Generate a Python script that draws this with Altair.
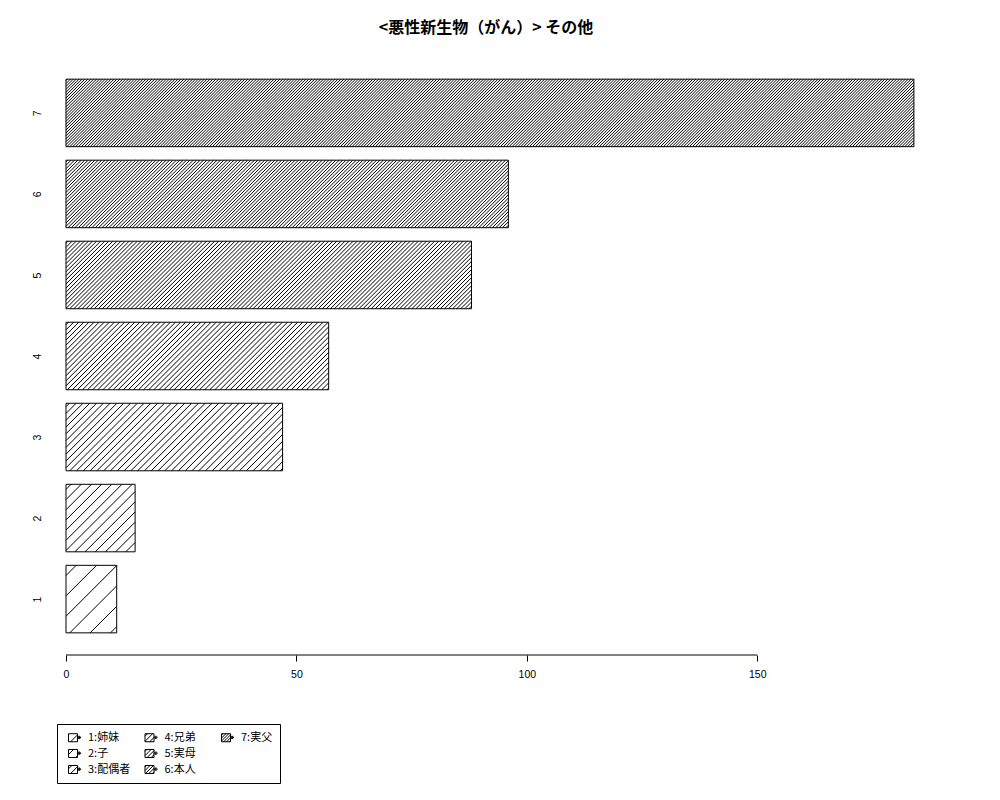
import altair as alt
import pandas as pd
import numpy as np

# ---------------- data ----------------
categories = ["1", "2", "3", "4", "5", "6", "7"]
names = ["姉妹", "子", "配偶者", "兄弟", "実母", "本人", "実父"]
values = [11, 15, 47, 57, 88, 96, 184]
x_ticks = [0, 50, 100, 150]
title_text = "<悪性新生物（がん）> その他"

# ---------------- layout / style ----------------
VIEW_W, VIEW_H = 882, 598
X_MAX = 191.4
BAR_W, BAR_SPACE = 1.0, 0.2          # R barplot geometry (width, space)
DENSITY = [5, 10, 15, 20, 25, 30, 35]  # hatch lines per inch (R style)
LAT = "Liberation Sans"
CJK = "Noto Sans CJK JP"

n = len(categories)
y_lo = [BAR_SPACE + i * (BAR_W + BAR_SPACE) for i in range(n)]
y_hi = [lo + BAR_W for lo in y_lo]
y_mid = [lo + BAR_W / 2 for lo in y_lo]
ext = 0.04 * (y_hi[-1] - y_lo[0])
Y_MIN, Y_MAX = y_lo[0] - ext, y_hi[-1] + ext

pxu = VIEW_W / X_MAX            # pixels per x unit
pyu = VIEW_H / (Y_MAX - Y_MIN)  # pixels per y unit


def spacing_px(d):
    return 72.0 * np.sqrt(2) / d


# hatch segments (45 degrees in screen space), clipped to each bar
hx, hx2, hy, hy2 = [], [], [], []
for v, lo, d in zip(values, y_lo, DENSITY):
    W, H = v * pxu, BAR_W * pyu
    s = spacing_px(d)
    for c in np.arange(-H + s / 2, W, s):
        ua, ub = max(0.0, c), min(W, c + H)
        if ub - ua < 0.3:
            continue
        hx.append(ua / pxu)
        hx2.append(ub / pxu)
        hy.append(lo + (ua - c) / pyu)
        hy2.append(lo + (ub - c) / pyu)
hatch_df = pd.DataFrame({"x": hx, "x2": hx2, "y": hy, "y2": hy2})


def symbol_path(spacing_units):
    x0, x1, y0, y1 = -1.0, 0.5, -0.67, 0.67
    segs = [f"M{x0},{y0}L{x1},{y0}", f"M{x1},{y0}L{x1},{y1}",
            f"M{x1},{y1}L{x0},{y1}", f"M{x0},{y1}L{x0},{y0}"]
    c = x0 + y0 + spacing_units / 2
    while c < x1 + y1:
        xa = max(x0, c - y1)
        xb = min(x1, c - y0)
        if xb > xa:
            segs.append(f"M{xa:.3f},{c - xa:.3f}L{xb:.3f},{c - xb:.3f}")
        c += spacing_units
    for bx, bh in [(0.55, 0.12), (0.7, 0.27), (0.85, 0.27), (1.0, 0.12)]:
        segs.append(f"M{bx},{-0.05 - bh:.2f}L{bx},{-0.05 + bh:.2f}")
    return "".join(segs)


df = pd.DataFrame({"cat": categories, "value": values, "base": [0] * n,
                   "lo": y_lo, "hi": y_hi,
                   "label": [f"{c}:{nm}" for c, nm in zip(categories, names)]})

xscale = alt.Scale(domain=[0, X_MAX], nice=False, zero=True)
yscale = alt.Scale(domain=[Y_MIN, Y_MAX], nice=False, zero=False)
xaxis = alt.Axis(values=x_ticks, format="d", title=None, grid=False, domain=False,
                 tickSize=6, tickColor="black", labelFont=LAT, labelFontSize=10.5,
                 labelColor="black", labelPadding=8, labelFlush=False)
cat_js = "[" + ",".join(f"'{c}'" for c in categories) + "]"
yaxis = alt.Axis(title=None, grid=False, domain=False, ticks=False, tickSize=0,
                 values=y_mid,
                 labelExpr=f"{cat_js}[round((datum.value - {y_mid[0]}) / {BAR_W + BAR_SPACE})]",
                 labelAngle=-90, labelAlign="center", labelBaseline="alphabetic",
                 labelFont=LAT, labelFontSize=10.5, labelColor="black",
                 labelPadding=26, minExtent=50, maxExtent=50, labelFlush=False)

enc = dict(x=alt.X("base:Q", scale=xscale, axis=xaxis), x2="value:Q",
           y=alt.Y("lo:Q", scale=yscale, axis=yaxis), y2="hi:Q")

bars_fill = alt.Chart(df).mark_rect(fill="white", strokeWidth=0).encode(**enc)
hatch = alt.Chart(hatch_df).mark_rule(color="black", strokeWidth=1).encode(
    x=alt.X("x:Q", scale=xscale, axis=xaxis), x2="x2:Q",
    y=alt.Y("y:Q", scale=yscale, axis=yaxis), y2="y2:Q")
bars_outline = alt.Chart(df).mark_rect(fill="white", fillOpacity=0, stroke="black",
                                       strokeWidth=1).encode(**enc)

# x axis line spanning first to last tick (R style)
axis_df = pd.DataFrame({"a": [x_ticks[0]], "b": [x_ticks[-1]]})
rule = alt.Chart(axis_df).mark_rule(color="black", strokeWidth=1).encode(
    x=alt.X("a:Q", scale=xscale, axis=xaxis), x2="b:Q", y=alt.value(VIEW_H))

# legend (3 rows, filled column by column; one blank cell completes the grid,
# its invisible label widens the last column)
labels = list(df["label"])
legend_domain = labels + ["\u2800" * 4]
legend_range = [symbol_path(spacing_px(d) / 6.0) for d in DENSITY] + ["M0,0"]
leg_df = pd.DataFrame({"lab": legend_domain})
legend_layer = alt.Chart(leg_df).transform_filter("false").mark_point(
    filled=False, color="black", strokeWidth=1, opacity=1
).encode(
    shape=alt.Shape("lab:N", scale=alt.Scale(domain=legend_domain, range=legend_range),
                    legend=alt.Legend(title=None, orient="none", legendX=-9, legendY=667,
                                      columns=3, gridAlign="all", columnPadding=9.5,
                                      rowPadding=3, symbolSize=144,
                                      symbolStrokeColor="black",
                                      symbolStrokeWidth=1, symbolOffset=4, labelOffset=7,
                                      labelFont=CJK, labelFontSize=11, labelColor="black",
                                      strokeColor="black", fillColor="white", padding=7,
                                      cornerRadius=0))
)

chart = alt.layer(bars_fill, hatch, bars_outline, rule, legend_layer).properties(
    width=VIEW_W, height=VIEW_H, background="white",
    title=alt.TitleParams(title_text, font=CJK, fontSize=16, fontWeight="bold",
                          anchor="middle", offset=21, dx=-21, color="black"),
    padding={"left": 8, "top": 12, "right": 10, "bottom": 5},
).configure_view(stroke="transparent", strokeWidth=0)

chart.save("out.html", embed_options={"renderer": "svg", "actions": False})
